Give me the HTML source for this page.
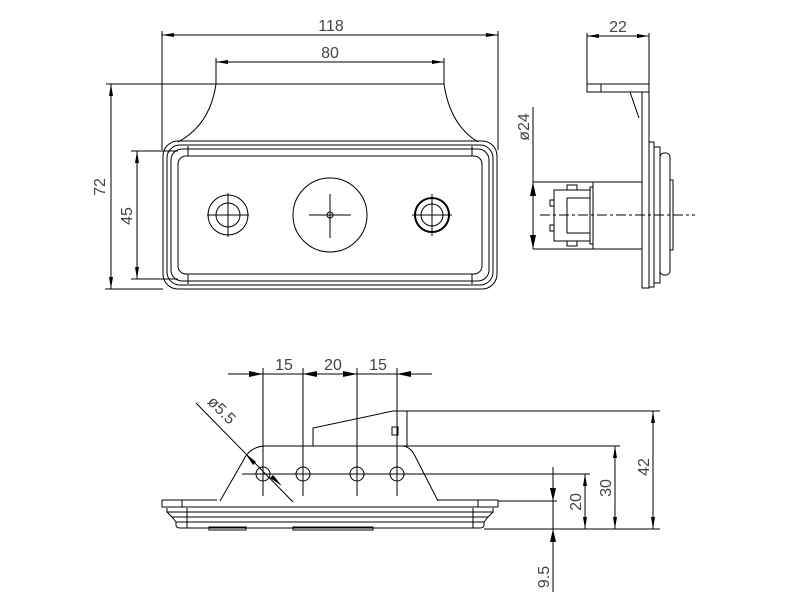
<!DOCTYPE html>
<html><head><style>html,body{margin:0;padding:0;background:#fff}svg{display:block}</style></head><body>
<svg width="800" height="600" viewBox="0 0 800 600" xmlns="http://www.w3.org/2000/svg" font-family="Liberation Sans, sans-serif">
<defs>
<marker id="a" viewBox="0 0 12 4" refX="12" refY="2" markerWidth="12" markerHeight="4" orient="auto-start-reverse" markerUnits="userSpaceOnUse"><path d="M0,0L12,2L0,4z" fill="#000"/></marker>
</defs>
<g stroke="#000" stroke-width="1" fill="none">
<line x1="162" y1="35" x2="498" y2="35" marker-start="url(#a)" marker-end="url(#a)"/>
<line x1="216" y1="62" x2="444" y2="62" marker-start="url(#a)" marker-end="url(#a)"/>
<line x1="162" y1="31" x2="162" y2="150"/>
<line x1="498" y1="31" x2="498" y2="150"/>
<line x1="216" y1="58" x2="216" y2="84"/>
<line x1="444" y1="58" x2="444" y2="84"/>
<line x1="106" y1="84" x2="444" y2="84"/>
<line x1="105" y1="289" x2="163" y2="289"/>
<line x1="111" y1="84" x2="111" y2="289" marker-start="url(#a)" marker-end="url(#a)"/>
<line x1="131" y1="151" x2="178" y2="151"/>
<line x1="131" y1="279" x2="178" y2="279"/>
<line x1="137" y1="151" x2="137" y2="279" marker-start="url(#a)" marker-end="url(#a)"/>
<path d="M216,84 Q210,125 178,142 M444,84 Q450,125 478,142"/>
<rect x="163" y="141" width="334" height="148" rx="15"/>
<rect x="167" y="145" width="326" height="140" rx="13"/>
<rect x="171" y="149" width="318" height="132" rx="11"/>
<rect x="178" y="156" width="304" height="118" rx="8"/>
<line x1="188" y1="146" x2="188" y2="156"/><line x1="472" y1="146" x2="472" y2="156"/>
<line x1="188" y1="274" x2="188" y2="284"/><line x1="472" y1="274" x2="472" y2="284"/>
<circle cx="228" cy="215" r="20"/><circle cx="228" cy="215" r="12"/>
<line x1="207" y1="215" x2="249" y2="215"/><line x1="228" y1="193" x2="228" y2="237"/>
<circle cx="330" cy="215" r="37"/><circle cx="330" cy="215" r="3"/>
<line x1="309" y1="215" x2="351" y2="215"/><line x1="330" y1="194" x2="330" y2="238"/>
<circle cx="432" cy="215" r="17" stroke-width="2"/><circle cx="432" cy="215" r="11"/>
<line x1="412" y1="215" x2="452" y2="215"/><line x1="432" y1="194" x2="432" y2="236"/>
<line x1="587" y1="36" x2="649" y2="36" marker-start="url(#a)" marker-end="url(#a)"/>
<line x1="587" y1="33" x2="587" y2="84"/><line x1="649" y1="33" x2="649" y2="84"/>
<rect x="587" y="84" width="62" height="8"/>
<line x1="601" y1="84" x2="601" y2="92"/>
<rect x="642" y="92" width="7" height="196"/>
<line x1="630" y1="92" x2="639" y2="118"/>
<rect x="649" y="142" width="5" height="145"/>
<rect x="654" y="147" width="6" height="136"/>
<rect x="660" y="153" width="10" height="122" rx="4"/>
<rect x="670" y="180" width="3" height="70"/>
<line x1="533" y1="182" x2="642" y2="182"/><line x1="533" y1="249" x2="642" y2="249"/>
<line x1="593" y1="182" x2="593" y2="249"/>
<line x1="533" y1="107" x2="533" y2="249"/>
<path d="M533,182 l-3,14 h6z M533,249 l-3,-14 h6z" fill="#000" stroke="none"/>
<rect x="554" y="190" width="36" height="51"/>
<rect x="567" y="198" width="23" height="35"/>
<rect x="567" y="185" width="10" height="5"/><rect x="567" y="241" width="10" height="5"/>
<rect x="550" y="200" width="4" height="6"/><rect x="550" y="225" width="4" height="6"/>
<rect x="590" y="187" width="3" height="57"/>
<line x1="540" y1="215" x2="695" y2="215" stroke-dasharray="10,3,3,3"/>
<line x1="228" y1="374" x2="432" y2="374"/>
<path d="M263,374 l-14,-3 v6z M303,374 l14,-3 v6z M357,374 l-14,-3 v6z M397,374 l14,-3 v6z" fill="#000" stroke="none"/>
<line x1="263" y1="368" x2="263" y2="496"/><line x1="303" y1="368" x2="303" y2="496"/>
<line x1="357" y1="368" x2="357" y2="496"/><line x1="397" y1="368" x2="397" y2="496"/>
<circle cx="263" cy="474" r="7"/><circle cx="303" cy="474" r="7"/>
<circle cx="357" cy="474" r="7"/><circle cx="397" cy="474" r="7"/>
<line x1="242" y1="474" x2="590" y2="474"/>
<line x1="196" y1="403" x2="293" y2="502"/>
<path d="M245,453 l8,12 l3,-3z M282,486 l-12,-8 l3,-3z" fill="#000" stroke="none"/>
<path d="M220,501 L243,461 Q250,446 266,446 L402,446 Q410,446 415,456 L438,501"/>
<line x1="402" y1="446" x2="620" y2="446"/>
<path d="M313,446 V428 L393,411 H407 V446"/>
<rect x="392" y="427" width="6" height="8"/>
<line x1="407" y1="411" x2="660" y2="411"/>
<path d="M162,500 h55 M162,500 v7 h20 v-7 M182,507 h296 M498,500 h-60 M498,500 v7 h-20 v-7"/>
<path d="M167,508 v4 h326 v-4 M167,512 L172,517 h316 l5,-5 M172,517 L176,522 h308 l4,-5 M176,522 v3 q0,3 4,3 h300 q4,0 4,-3 v-3"/>
<line x1="187" y1="508" x2="187" y2="528"/><line x1="473" y1="508" x2="473" y2="528"/>
<rect x="209" y="527" width="37" height="3"/><rect x="293" y="527" width="80" height="3"/>
<line x1="498" y1="501" x2="557" y2="501"/>
<line x1="484" y1="529" x2="660" y2="529"/>
<line x1="653" y1="411" x2="653" y2="529" marker-start="url(#a)" marker-end="url(#a)"/>
<line x1="615" y1="446" x2="615" y2="529" marker-start="url(#a)" marker-end="url(#a)"/>
<line x1="585" y1="474" x2="585" y2="529" marker-start="url(#a)" marker-end="url(#a)"/>
<line x1="553" y1="467" x2="553" y2="592"/>
<path d="M553,501 l-3,-13 h6z M553,529 l-3,13 h6z" fill="#000" stroke="none"/>
</g>
<g font-size="16" fill="#444" text-anchor="middle">
<text x="331" y="31">118</text>
<text x="330" y="58">80</text>
<text x="105" y="187" transform="rotate(-90 105 187)">72</text>
<text x="132" y="216" transform="rotate(-90 132 216)">45</text>
<text x="618" y="32">22</text>
<text x="529" y="127" transform="rotate(-90 529 127)">ø24</text>
<text x="284" y="370">15</text>
<text x="333" y="370">20</text>
<text x="378" y="370">15</text>
<text x="218" y="414" transform="rotate(45 218 414)">ø5.5</text>
<text x="581" y="502" transform="rotate(-90 581 502)">20</text>
<text x="611" y="488" transform="rotate(-90 611 488)">30</text>
<text x="649" y="467" transform="rotate(-90 649 467)">42</text>
<text x="549" y="577" transform="rotate(-90 549 577)">9.5</text>
</g>
</svg>
</body></html>
